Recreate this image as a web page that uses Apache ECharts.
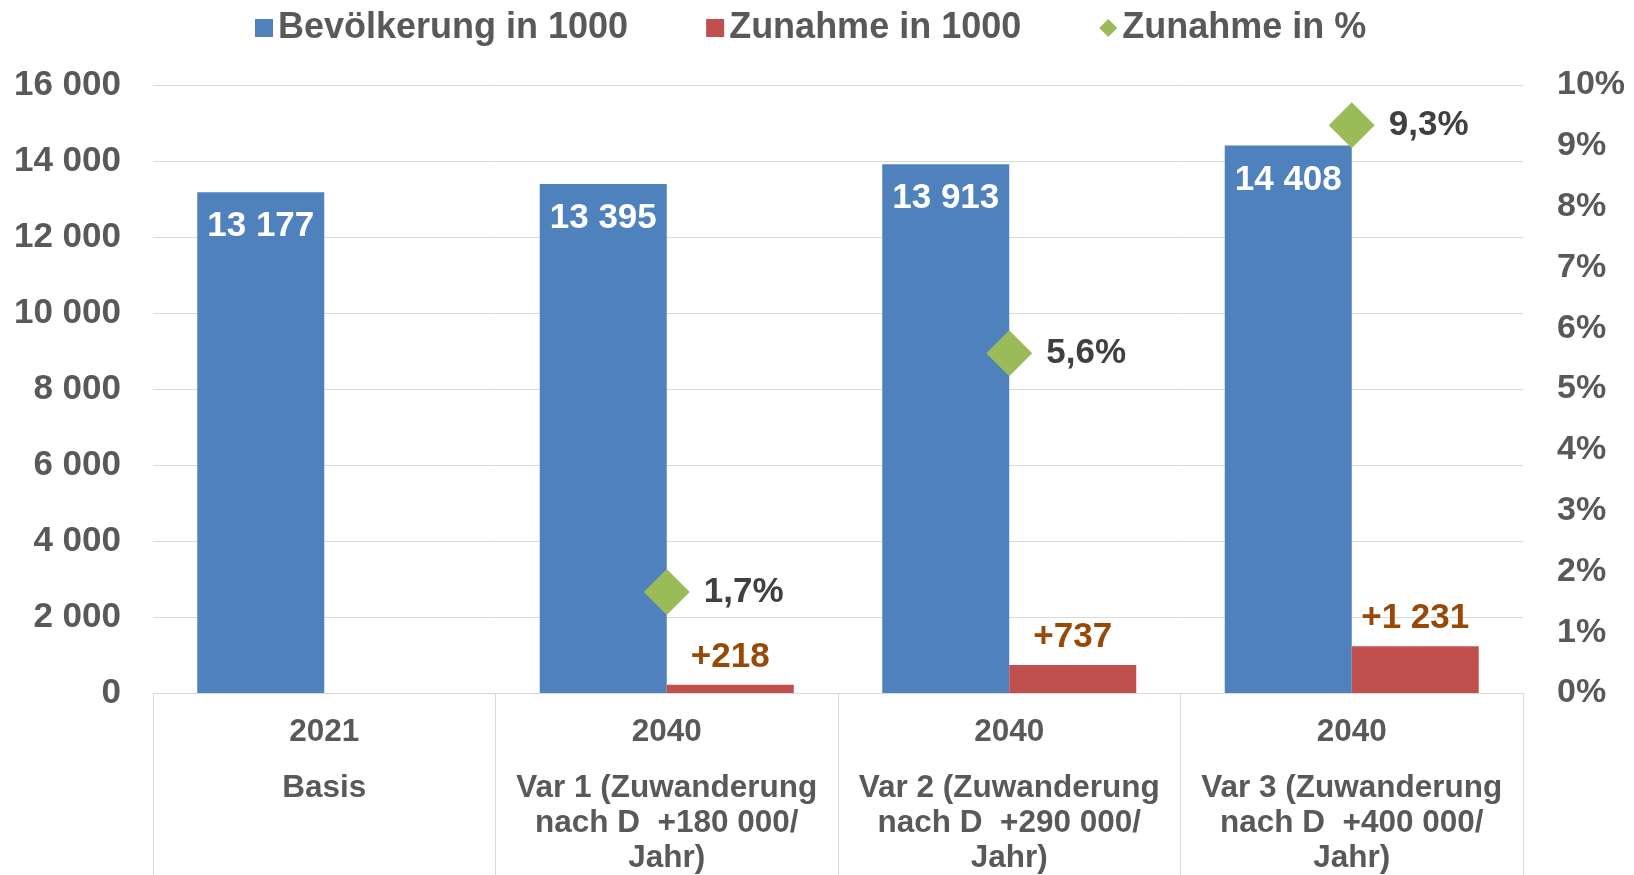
<!DOCTYPE html>
<html>
<head>
<meta charset="utf-8">
<script src="https://cdn.jsdelivr.net/npm/echarts@6/dist/echarts.min.js"></script>
<style>
    html, body {margin:0;padding:0;background:#ffffff;}
    #chart {width:1634px;height:875px;}
</style>
</head>
<body>
<div id="chart"></div>
<script>
    // Kategorien (Jahr + Variante)
    var years = ['2021', '2040', '2040', '2040'];
    var variants = [
        ['Basis'],
        ['Var 1 (Zuwanderung', 'nach D  +180 000/', 'Jahr)'],
        ['Var 2 (Zuwanderung', 'nach D  +290 000/', 'Jahr)'],
        ['Var 3 (Zuwanderung', 'nach D  +400 000/', 'Jahr)']
    ];
    // Werte
    var bevoelkerung = [13177, 13395, 13913, 14408];
    var zunahme = ['-', 218, 737, 1231];
    var zunahmeProzent = ['-', 1.66, 5.59, 9.34];
    // Achsen
    var leftTicks = {min: 0, max: 16000, interval: 2000};
    var rightTicks = {min: 0, max: 10, interval: 1};

    var categories = years.map(function (y, i) { return y + '|' + variants[i].join('#'); });

    var font = "'Liberation Sans', Arial, sans-serif";
    var grey = '#595959';

    function fmt(v) {
        return String(v).replace(/\B(?=(\d{3})+(?!\d))/g, ' ');
    }

    var chart = echarts.init(document.getElementById('chart'));

    var option = {
        backgroundColor: '#ffffff',
        textStyle: {fontFamily: font},
        animation: false,
        legend: {
            top: 5,
            left: 250,
            itemWidth: 18,
            itemHeight: 18,
            itemGap: 78,
            textStyle: {fontSize: 36, fontWeight: 'bold', color: grey, fontFamily: font},
            data: [
                {name: 'Bevölkerung in 1000', icon: 'rect'},
                {name: 'Zunahme in 1000', icon: 'rect'},
                {name: 'Zunahme in %', icon: 'path://M0,10L10,0L20,10L10,20Z'}
            ]
        },
        grid: {
            left: 153,
            right: 111,
            top: 85,
            bottom: 182
        },
        xAxis: {
            type: 'category',
            data: categories,
            axisLine: {lineStyle: {color: '#d9d9d9', width: 1}},
            axisTick: {show: true, length: 200, lineStyle: {color: '#d9d9d9', width: 1}},
            axisLabel: {
                interval: 0,
                margin: 0,
                formatter: function (val) {
                    var parts = val.split('|');
                    var lines = parts[1].split('#').map(function (l) { return '{v|' + l + '}'; });
                    return '{y|' + parts[0] + '}\n' + lines.join('\n');
                },
                rich: {
                    y: {fontSize: 31.5, fontWeight: 'bold', color: grey, lineHeight: 78, fontFamily: font},
                    v: {fontSize: 31.5, fontWeight: 'bold', color: grey, lineHeight: 35, fontFamily: font}
                }
            }
        },
        yAxis: [
            {
                type: 'value',
                min: leftTicks.min,
                max: leftTicks.max,
                interval: leftTicks.interval,
                axisLine: {show: false},
                axisTick: {show: false},
                splitLine: {lineStyle: {color: '#d9d9d9', width: 1}},
                axisLabel: {
                    margin: 32,
                    fontSize: 35,
                    fontWeight: 'bold',
                    color: grey,
                    fontFamily: font,
                    formatter: function (v) { return fmt(v); }
                }
            },
            {
                type: 'value',
                min: rightTicks.min,
                max: rightTicks.max,
                interval: rightTicks.interval,
                axisLine: {show: false},
                axisTick: {show: false},
                splitLine: {show: false},
                axisLabel: {
                    margin: 34,
                    fontSize: 34,
                    fontWeight: 'bold',
                    color: grey,
                    fontFamily: font,
                    formatter: function (v) { return v + '%'; }
                }
            }
        ],
        series: [
            {
                name: 'Bevölkerung in 1000',
                type: 'bar',
                data: bevoelkerung,
                barWidth: 127,
                barGap: '0%',
                itemStyle: {color: '#4f81bd'},
                label: {
                    show: true,
                    position: 'insideTop',
                    distance: 17,
                    fontSize: 35,
                    fontWeight: 'bold',
                    color: '#ffffff',
                    fontFamily: font,
                    formatter: function (p) { return fmt(p.value); }
                }
            },
            {
                name: 'Zunahme in 1000',
                type: 'bar',
                data: zunahme,
                barWidth: 127,
                barGap: '0%',
                itemStyle: {color: '#c0504d'},
                label: {
                    show: true,
                    position: 'top',
                    distance: 10,
                    fontSize: 35,
                    fontWeight: 'bold',
                    color: '#984807',
                    fontFamily: font,
                    formatter: function (p) { return '+' + fmt(p.value); }
                }
            },
            {
                name: 'Zunahme in %',
                type: 'scatter',
                yAxisIndex: 1,
                data: zunahmeProzent,
                symbol: 'diamond',
                symbolSize: 46,
                itemStyle: {color: '#9bbb59', opacity: 1},
                z: 5,
                label: {
                    show: true,
                    position: 'right',
                    distance: 14,
                    fontSize: 35,
                    fontWeight: 'bold',
                    color: '#404040',
                    fontFamily: font,
                    formatter: function (p) {
                        return (Math.round(p.value * 10) / 10).toFixed(1).replace('.', ',') + '%';
                    }
                }
            }
        ]
    };

    chart.setOption(option);

    window.onresize = function () {
        chart.resize();
    };
</script>
</body>
</html>
